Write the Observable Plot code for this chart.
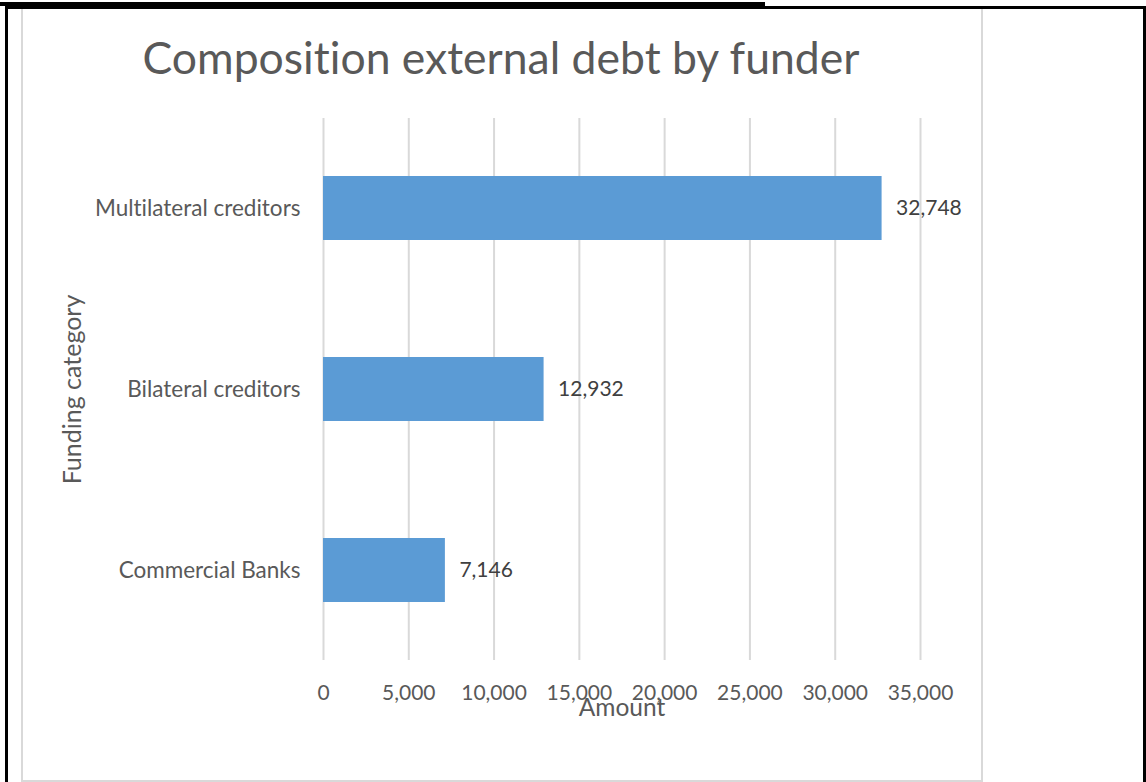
<!DOCTYPE html>
<html>
<head>
<meta charset="utf-8">
<script src="https://cdn.jsdelivr.net/npm/d3@7"></script>
<script src="https://cdn.jsdelivr.net/npm/@observablehq/plot@0.6"></script>
<style>
  html, body { margin: 0; padding: 0; background: #fff; }
  #page { position: relative; width: 1146px; height: 782px; overflow: hidden; font-family: Lato, "Open Sans", sans-serif; font-variant-ligatures: none; }
  #page svg, #page svg text { font-variant-ligatures: none; }
  .abs { position: absolute; }
  #chart { position: absolute; left: 0; top: 0; }
</style>
</head>
<body>
<div id="page">
  <div class="abs" style="left:21px;top:7px;width:958px;height:771px;border:2px solid #d9d9d9;"></div>
  <div id="chart"></div>
  <div class="abs" id="title" style="left:0;width:1002px;top:31px;text-align:center;font-size:44.5px;color:#595959;line-height:52px;">Composition external debt by funder</div>
  <div class="abs" style="left:0;top:2px;width:765px;height:4px;background:#000;"></div>
  <div class="abs" style="left:5px;top:6px;width:1141px;height:3px;background:#000;"></div>
  <div class="abs" style="left:5px;top:6px;width:3px;height:776px;background:#000;"></div>
  <div class="abs" style="left:1143px;top:6px;width:3px;height:776px;background:#000;"></div>
</div>
<script>
const categories = ["Multilateral creditors", "Bilateral creditors", "Commercial Banks"];
const amounts = [32748, 12932, 7146];
const xTicks = [0, 5000, 10000, 15000, 20000, 25000, 30000, 35000];
const xTitle = "Amount";
const yTitle = "Funding category";

const data = categories.map((c, i) => ({category: c, amount: amounts[i]}));
const fmt = d3.format(",");

const chart = Plot.plot({
  width: 1146,
  height: 782,
  marginLeft: 323,
  marginRight: 226,
  marginTop: 118,
  marginBottom: 122,
  style: {fontFamily: "Lato, 'Open Sans', sans-serif", fontSize: "21px", color: "#595959", background: "transparent", overflow: "visible"},
  x: {domain: [0, 35000]},
  y: {domain: categories, paddingInner: 0.646, paddingOuter: 0.32},
  marks: [
    Plot.ruleX(xTicks, {stroke: "#d9d9d9", strokeWidth: 2}),
    Plot.barX(data, {y: "category", x: "amount", fill: "#5b9bd5"}),
    Plot.text(data, {y: "category", x: "amount", text: d => fmt(d.amount), textAnchor: "start", dx: 14, fill: "#404040", fontSize: 21}),
    Plot.axisX({ticks: xTicks, tickSize: 0, tickPadding: 25, tickFormat: fmt, fontSize: 21, fill: "#595959", label: null}),
    Plot.axisY({tickSize: 0, tickPadding: 23, fontSize: 22.5, fill: "#595959", label: null}),
    Plot.text([xTitle], {frameAnchor: "bottom", dy: 55, fontSize: 24.5, fill: "#595959"}),
    Plot.text([yTitle], {frameAnchor: "left", dx: -251, rotate: -90, textAnchor: "middle", fontSize: 25, fill: "#595959"})
  ]
});
document.getElementById("chart").appendChild(chart);
</script>
</body>
</html>
